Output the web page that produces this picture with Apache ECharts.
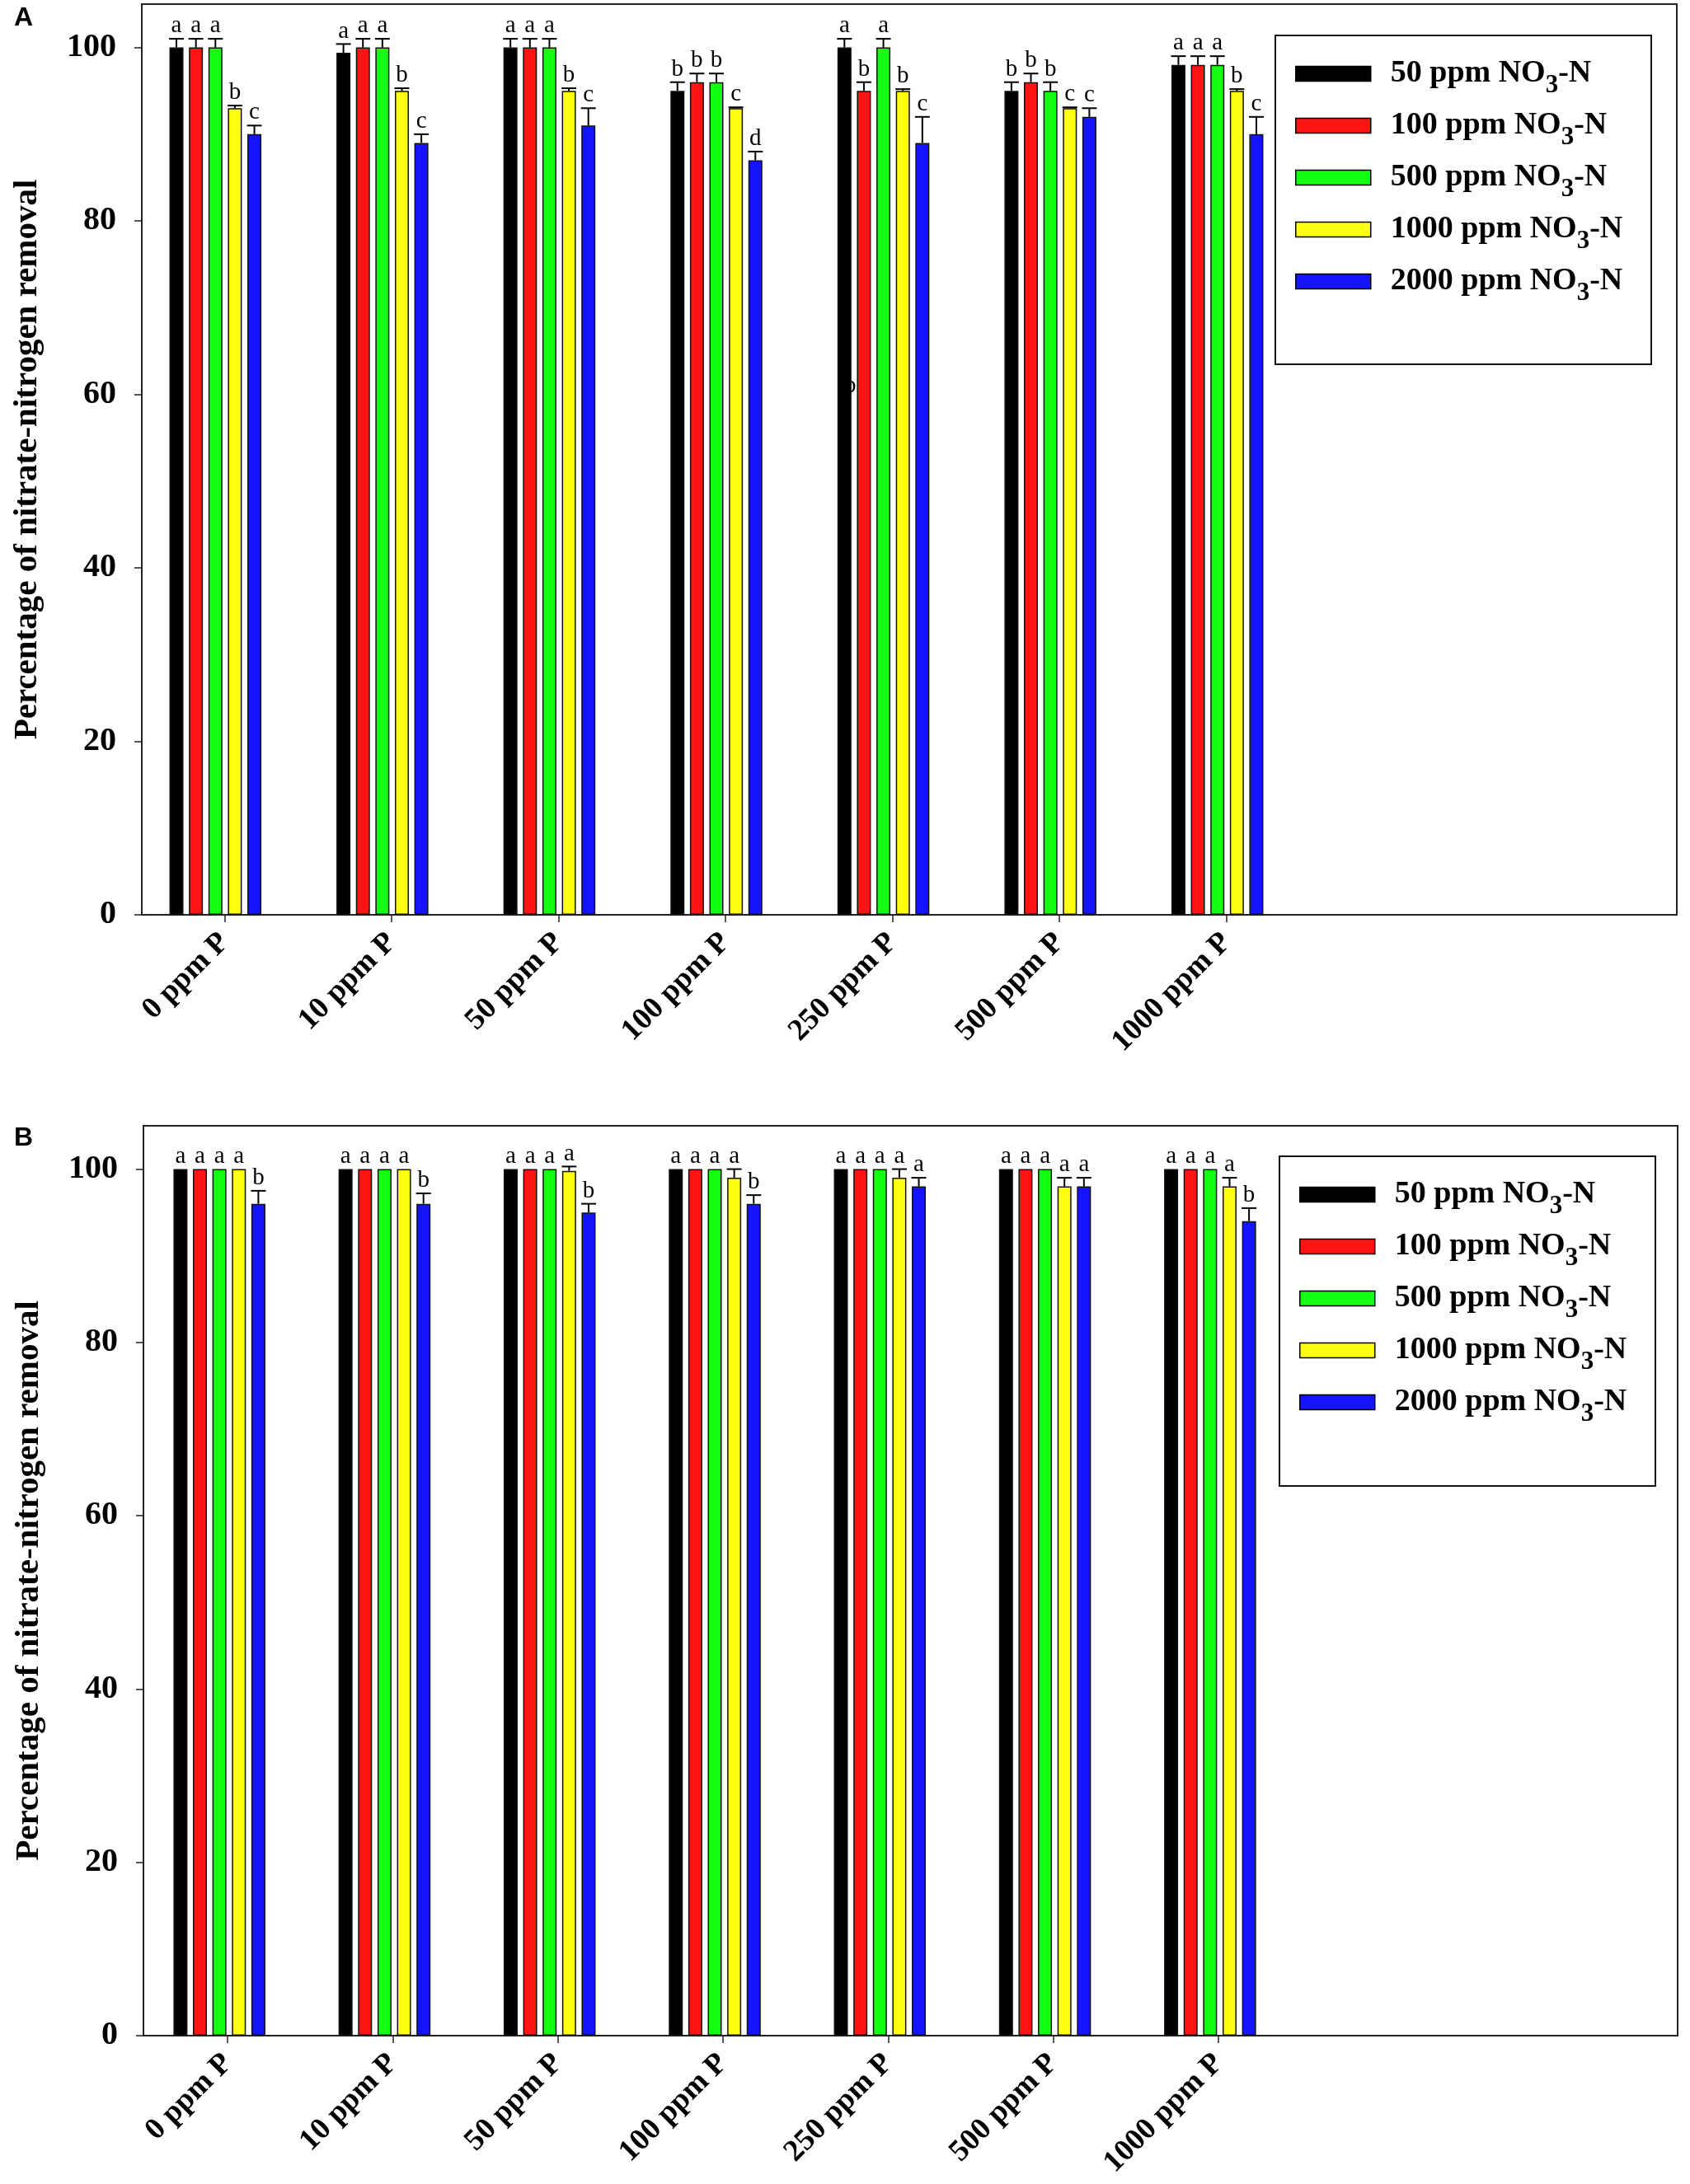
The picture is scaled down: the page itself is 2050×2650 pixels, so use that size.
<!DOCTYPE html>
<html>
<head>
<meta charset="utf-8">
<script src="https://cdn.jsdelivr.net/npm/echarts@6/dist/echarts.min.js"></script>
<style>
  html, body { margin: 0; padding: 0; background: #fff; }
  #chart { width: 2050px; height: 2650px; }
</style>
</head>
<body>
<div id="chart"></div>
<script>
// categories and series
const categories = ['0 ppm P', '10 ppm P', '50 ppm P', '100 ppm P', '250 ppm P', '500 ppm P', '1000 ppm P'];
const seriesNames = ['50 ppm NO3-N', '100 ppm NO3-N', '500 ppm NO3-N', '1000 ppm NO3-N', '2000 ppm NO3-N'];
const barColors = ['#000000', '#ff1414', '#14ff14', '#ffff14', '#1414ff'];
const yTicks = [0, 20, 40, 60, 80, 100];

// Panel A : means per NO3-N level (rows) for each P level (cols)
const aMeans = [
  [100, 99.4, 100, 95, 100, 95, 98],
  [100, 100, 100, 96, 95, 96, 98],
  [100, 100, 100, 96, 100, 95, 98],
  [93, 95, 95, 93, 95, 93, 95],
  [90, 89, 91, 87, 89, 92, 90]
];
const aErrors = [
  [1, 1, 1, 1, 1, 1, 1],
  [1, 1, 1, 1, 1, 1, 1],
  [1, 1, 1, 1, 1, 1, 1],
  [0.3, 0.3, 0.3, 0.1, 0.2, 0.1, 0.2],
  [1, 1, 2, 1, 3, 1, 2]
];
const aLetters = [
  ['a', 'a', 'a', 'b', 'a', 'b', 'a'],
  ['a', 'a', 'a', 'b', 'b', 'b', 'a'],
  ['a', 'a', 'a', 'b', 'a', 'b', 'a'],
  ['b', 'b', 'b', 'c', 'b', 'c', 'b'],
  ['c', 'c', 'c', 'd', 'c', 'c', 'c']
];
// a stray letter printed behind the 250 ppm P / 50 ppm bar: [category, series, value, letter]
const aStray = [[4, 0, 59.5, 'b']];

// Panel B
const bMeans = [
  [100, 100, 100, 100, 100, 100, 100],
  [100, 100, 100, 100, 100, 100, 100],
  [100, 100, 100, 100, 100, 100, 100],
  [100, 100, 99.8, 99, 99, 98, 98],
  [96, 96, 95, 96, 98, 98, 94]
];
const bErrors = [
  [0, 0, 0, 0, 0, 0, 0],
  [0, 0, 0, 0, 0, 0, 0],
  [0, 0, 0, 0, 0, 0, 0],
  [0, 0, 0.5, 1, 1, 1, 1],
  [1.5, 1.2, 1, 1, 1, 1, 1.5]
];
const bLetters = [
  ['a', 'a', 'a', 'a', 'a', 'a', 'a'],
  ['a', 'a', 'a', 'a', 'a', 'a', 'a'],
  ['a', 'a', 'a', 'a', 'a', 'a', 'a'],
  ['a', 'a', 'a', 'a', 'a', 'a', 'a'],
  ['b', 'b', 'b', 'b', 'a', 'a', 'b']
];
const bStray = [];

const yTitle = 'Percentage of nitrate-nitrogen removal';

// layout (px)
const SERIF = 'Liberation Serif';
const BAR_W = 17;
const BAR_GAP = 0.39;
const PITCH = BAR_W * (1 + BAR_GAP);
const panels = [
  { tag: 'A', means: aMeans, errors: aErrors, letters: aLetters, stray: aStray,
    frame: { left: 172, top: 5, width: 1862, height: 1105 },
    bars: { left: 160, width: 1418 }, tickShift: 11,
    box: { x: 1547, y: 43, w: 456, h: 399 }, legendLeft: 1566, legendTop: 55, tagY: 6 },
  { tag: 'B', means: bMeans, errors: bErrors, letters: bLetters, stray: bStray,
    frame: { left: 174, top: 1366, width: 1861, height: 1104 },
    bars: { left: 166, width: 1402 }, tickShift: 10,
    box: { x: 1552, y: 1403, w: 456, h: 400 }, legendLeft: 1571, legendTop: 1415, tagY: 1365 }
];

function errorRender(letters, dx) {
  return function (params, api) {
    const cat = api.value(0), s = api.value(1), v = api.value(2), e = api.value(3);
    const p0 = api.coord([cat, v]);
    const p1 = api.coord([cat, v + e]);
    const x = p0[0] + (s - 2) * PITCH;
    const kids = [];
    if (e > 0) {
      kids.push({ type: 'line', shape: { x1: x, y1: p0[1], x2: x, y2: p1[1] }, style: { stroke: '#000', lineWidth: 2 } });
      kids.push({ type: 'line', shape: { x1: x - 9, y1: p1[1], x2: x + 9, y2: p1[1] }, style: { stroke: '#000', lineWidth: 2 } });
    }
    kids.push({
      type: 'text', x: x + dx, y: p1[1] - 1,
      style: { text: letters[params.dataIndex], font: '29px "' + SERIF + '"', fill: '#000', align: 'center', verticalAlign: 'bottom' }
    });
    return { type: 'group', children: kids };
  };
}

const grid = [], xAxis = [], yAxis = [], series = [], legend = [], graphic = [];

panels.forEach(function (p, k) {
  const fi = 3 * k, bi = 3 * k + 1, li = 3 * k + 2;
  // frame grid with the visible y axis
  grid.push({ left: p.frame.left, top: p.frame.top, width: p.frame.width, height: p.frame.height,
    show: true, borderColor: '#222', borderWidth: 2, backgroundColor: 'transparent' });
  // bar grid
  grid.push({ left: p.bars.left, top: p.frame.top, width: p.bars.width, height: p.frame.height });
  // tick/label grid (ticks sit a little right of the bar groups)
  grid.push({ left: p.bars.left + p.tickShift, top: p.frame.top, width: p.bars.width, height: p.frame.height });

  xAxis.push({ type: 'value', gridIndex: fi, min: 0, max: 1, show: false });
  xAxis.push({ type: 'category', gridIndex: bi, data: categories, boundaryGap: true, show: false });
  xAxis.push({
    type: 'category', gridIndex: li, data: categories, boundaryGap: true,
    axisLine: { show: false },
    axisTick: { show: true, alignWithLabel: true, length: 9, lineStyle: { color: '#222', width: 1.5 } },
    axisLabel: { rotate: 45, margin: 28, color: '#000', fontFamily: SERIF, fontWeight: 'bold', fontSize: 37 }
  });

  yAxis.push({
    type: 'value', gridIndex: fi, min: 0, max: 105, interval: 20,
    name: yTitle, nameLocation: 'middle', nameGap: 118,
    nameTextStyle: { fontFamily: SERIF, fontWeight: 'bold', fontSize: 41, color: '#000' },
    axisLine: { show: true, lineStyle: { color: '#222', width: 2 } },
    axisTick: { show: true, length: 9, customValues: yTicks, lineStyle: { color: '#222', width: 1.5 } },
    axisLabel: { margin: 31, customValues: yTicks, color: '#000',
      fontFamily: SERIF, fontWeight: 'bold', fontSize: 40 },
    splitLine: { show: false }
  });
  yAxis.push({ type: 'value', gridIndex: bi, min: 0, max: 105, show: false, splitLine: { show: false } });
  yAxis.push({ type: 'value', gridIndex: li, min: 0, max: 105, show: false, splitLine: { show: false } });

  seriesNames.forEach(function (name, s) {
    series.push({
      name: name, type: 'bar', xAxisIndex: bi, yAxisIndex: bi,
      barWidth: BAR_W, barGap: Math.round(BAR_GAP * 100) + '%',
      data: p.means[s],
      itemStyle: { color: barColors[s], borderColor: '#111', borderWidth: 1.5 },
      z: 2, animation: false
    });
  });

  const rows = [], lets = [];
  p.means.forEach(function (row, s) {
    row.forEach(function (v, c) {
      rows.push([c, s, v, p.errors[s][c]]);
      lets.push(p.letters[s][c]);
    });
  });
  series.push({
    type: 'custom', xAxisIndex: bi, yAxisIndex: bi, data: rows,
    encode: { x: 0, y: 2 }, renderItem: errorRender(lets, 0), z: 4, silent: true, animation: false
  });

  if (p.stray.length) {
    series.push({
      type: 'custom', xAxisIndex: bi, yAxisIndex: bi,
      data: p.stray.map(function (r) { return [r[0], r[1], r[2], 0]; }),
      encode: { x: 0, y: 2 },
      renderItem: errorRender(p.stray.map(function (r) { return r[3]; }), 7),
      z: 1, silent: true, animation: false
    });
  }

  legend.push({
    show: true, orient: 'vertical', left: p.legendLeft, top: p.legendTop,
    itemWidth: 91, itemHeight: 18, itemGap: 4, icon: 'rect', selectedMode: false,
    data: seriesNames,
    itemStyle: { borderColor: '#000', borderWidth: 1.5 },
    formatter: function (name) { return '{t|' + name.replace('3-N', '') + '}{s|3}{t|-N}'; },
    textStyle: {
      padding: [0, 0, 0, 19],
      rich: {
        t: { fontFamily: SERIF, fontWeight: 'bold', fontSize: 38, lineHeight: 40, color: '#000' },
        s: { fontFamily: SERIF, fontWeight: 'bold', fontSize: 31, lineHeight: 40, padding: [28, 0, 0, 0], color: '#000' }
      }
    }
  });

  graphic.push({
    type: 'rect', shape: { x: p.box.x, y: p.box.y, width: p.box.w, height: p.box.h },
    style: { fill: 'transparent', stroke: '#111', lineWidth: 2 }, z: 5
  });
  graphic.push({
    type: 'text', x: 17, y: p.tagY,
    style: { text: p.tag, font: 'bold 32px "Liberation Sans"', fill: '#000' }, z: 5
  });
});

const chart = echarts.init(document.getElementById('chart'), null, { renderer: 'canvas' });
chart.setOption({
  backgroundColor: '#fff',
  animation: false,
  grid: grid, xAxis: xAxis, yAxis: yAxis, series: series, legend: legend, graphic: graphic
});
</script>
</body>
</html>
